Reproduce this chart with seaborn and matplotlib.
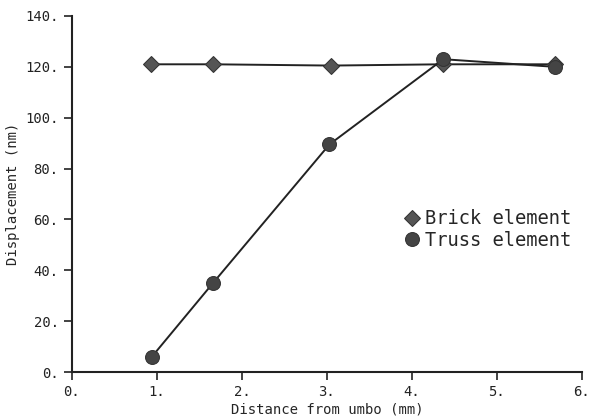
import matplotlib
matplotlib.use("Agg")
import matplotlib.pyplot as plt
import seaborn as sns
import pandas as pd

distance_brick = [0.93, 1.66, 3.05, 4.36, 5.68]
disp_brick = [121.0, 121.0, 120.5, 121.0, 121.0]
distance_truss = [0.94, 1.66, 3.03, 4.37, 5.68]
disp_truss = [6.0, 35.0, 89.5, 123.0, 120.0]
xticks = [0, 1, 2, 3, 4, 5, 6]
yticks = [0, 20, 40, 60, 80, 100, 120, 140]

sns.set_style("ticks")
plt.rcParams['font.family'] = ['DejaVu Sans Mono']

fig = plt.figure(figsize=(5.89, 4.2), dpi=100)
ax = fig.add_axes([0.122, 0.114, 0.866, 0.848])

df_b = pd.DataFrame({"x": distance_brick, "y": disp_brick})
df_t = pd.DataFrame({"x": distance_truss, "y": disp_truss})

sns.lineplot(data=df_b, x="x", y="y", ax=ax, color="#222222", lw=1.4,
             marker="D", markersize=8, markerfacecolor="#555555",
             markeredgecolor="#333333", label="Brick element")
sns.lineplot(data=df_t, x="x", y="y", ax=ax, color="#222222", lw=1.4,
             marker="o", markersize=10, markerfacecolor="#444444",
             markeredgecolor="#333333", label="Truss element")

ax.set_xlim(0, 6)
ax.set_ylim(0, 140)
ax.set_xticks(xticks)
ax.set_xticklabels([f"{t}." for t in xticks])
ax.set_yticks(yticks)
ax.set_yticklabels([f"{t}." for t in yticks])
ax.tick_params(labelsize=10, direction="out", length=6, width=1.2, colors="#222222")
for s in ["top", "right"]:
    ax.spines[s].set_visible(False)
for s in ["left", "bottom"]:
    ax.spines[s].set_linewidth(1.5)
    ax.spines[s].set_color("#222222")
ax.set_xlabel("Distance from umbo (mm)", fontsize=10, labelpad=2)
ax.set_ylabel("Displacement (nm)", fontsize=10, labelpad=4)

leg = ax.legend(loc="center left", bbox_to_anchor=(0.655, 0.40), frameon=False,
                fontsize=13.5, handlelength=0.6, handletextpad=0.4,
                labelspacing=0.15, borderaxespad=0, borderpad=0)
for h in leg.legend_handles:
    h.set_linestyle("")

fig.savefig("out.png", dpi=100)
